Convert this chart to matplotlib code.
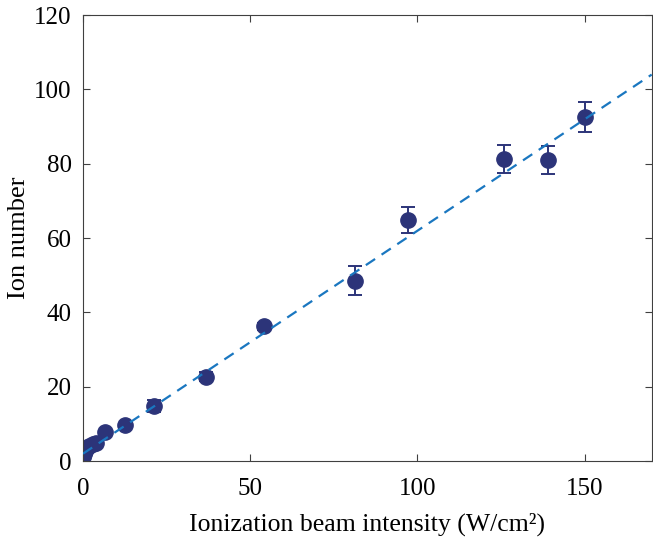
import numpy as np
import matplotlib.pyplot as plt

plt.rcParams['font.family'] = ['Liberation Serif', 'DejaVu Serif']

# measured ion number vs ionization beam intensity
intensity = [0.1, 0.3, 0.6, 1.0, 1.8, 3.0, 3.8, 6.6, 12.7, 21.3, 36.7, 54.0, 81.3, 97.2, 125.8, 139.0, 150.0]
ions = [1.0, 1.8, 2.8, 3.4, 4.2, 4.6, 5.0, 7.8, 9.6, 14.8, 22.7, 36.3, 48.6, 64.8, 81.2, 81.0, 92.5]
err = [0.3, 0.3, 0.4, 0.4, 0.4, 0.5, 0.5, 0.6, 0.8, 1.6, 1.2, 1.0, 3.8, 3.5, 3.8, 3.7, 4.0]

# linear fit shown as dashed line
fit_slope = 0.6
fit_intercept = 2.0
fit_x = [0, 170]

fig = plt.figure(figsize=(6.53, 5.40), dpi=100)
ax = fig.add_axes([0.127, 0.146, 0.871, 0.826])

ax.plot(fit_x, [fit_slope * v + fit_intercept for v in fit_x], '--',
        color='#1a77c0', lw=1.6, dashes=(5, 3.5), zorder=3)
ax.errorbar(intensity, ions, yerr=err, fmt='o', color='#2c3479', ms=11,
            ecolor='#2c3479', elinewidth=1.4, capsize=5, capthick=1.4, zorder=2)

ax.set_xlim(0, 170)
ax.set_ylim(0, 120)
ax.set_xticks([0, 50, 100, 150])
ax.set_yticks([0, 20, 40, 60, 80, 100, 120])
ax.tick_params(direction='in', top=True, right=True, labelsize=18, length=5,
               color='#404040')
ax.tick_params(axis='x', pad=12)
ax.tick_params(axis='y', pad=8)
for s in ax.spines.values():
    s.set_color('#404040')
    s.set_linewidth(0.8)

ax.set_xlabel('Ionization beam intensity (W/cm²)', fontsize=18.5, labelpad=9)
ax.set_ylabel('Ion number', fontsize=19, labelpad=3)

fig.savefig('out.png', dpi=100)
